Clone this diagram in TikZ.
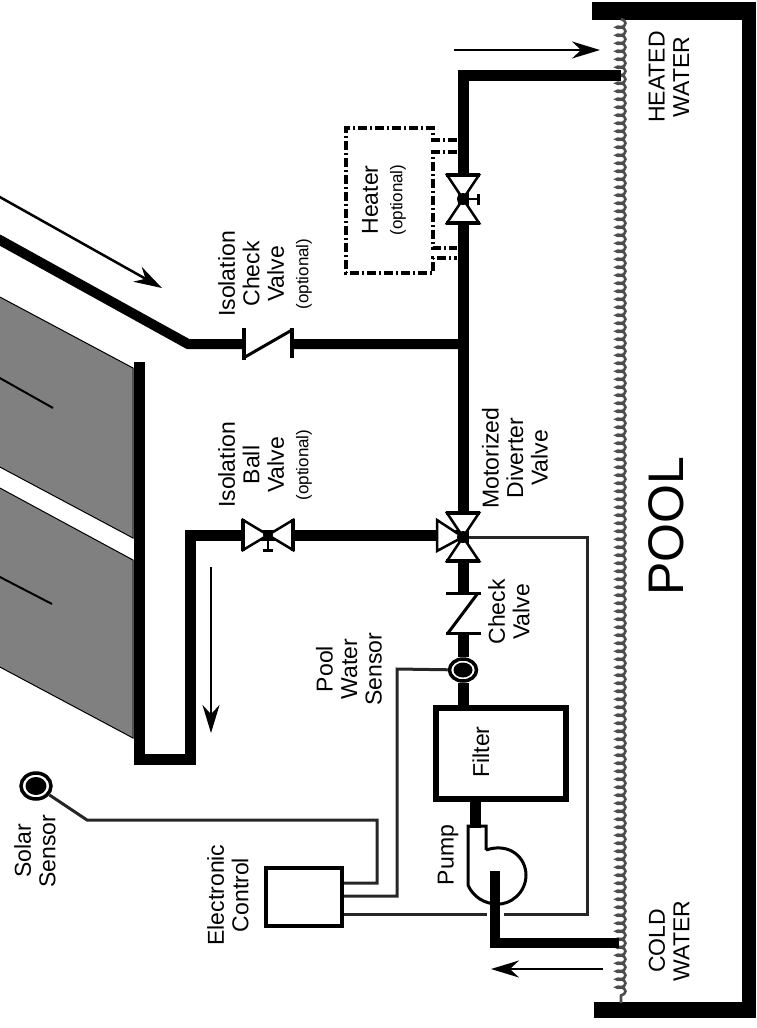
\documentclass[tikz,border=0pt]{standalone}
\usepackage{fontspec}
\setmainfont{Liberation Sans}
\usetikzlibrary{arrows.meta,shapes.geometric,decorations.pathmorphing}
\newcommand{\opt}{{\fontsize{17}{24.5}\selectfont (optional)}}
\tikzset{
  pipe/.style={line width=11pt,line join=miter},
  wire/.style={line width=3pt,black!85,line join=miter},
  panel/.style={fill=black!50,draw=black,line width=1pt},
  flow/.style={line width=2.5pt,-{Stealth[length=28pt,width=17pt]}},
  label/.style={rotate=90,align=center,inner sep=0pt,font=\fontsize{23}{24.5}\selectfont},
  sensorring/.style={ellipse,draw=black,fill=white,line width=3.5pt,inner sep=0pt},
  sensorcore/.style={ellipse,fill=black,inner sep=0pt},
  valveleg/.style={draw=black,fill=white,line width=2.5pt,line join=miter},
  vvalve/.pic={
    \path[valveleg] (-16,-24) -- (16,-24) -- (0,0) -- cycle;
    \path[valveleg] (-16,24) -- (16,24) -- (0,0) -- cycle;
    \draw[line width=3.5pt] (-17,-24) -- (17,-24) (-17,24) -- (17,24);
    \fill (0,0) circle[radius=6];
  },
  hvalve/.pic={
    \path[valveleg] (-25,-15) -- (-25,15) -- (0,0) -- cycle;
    \path[valveleg] (25,-15) -- (25,15) -- (0,0) -- cycle;
    \draw[line width=3.5pt] (-25,-16) -- (-25,16) (25,-16) -- (25,16);
    \fill (0,0) circle[radius=5];
    \draw[line width=2pt] (0,0) -- (0,14);
    \draw[line width=3pt] (-5,15) -- (5,15);
  },
  vcheck/.pic={
    \fill[white] (-16,-20) rectangle (16,20);
    \draw[line width=3pt] (-17,-20) -- (18,-20) (-17,20) -- (18,20);
    \draw[line width=3pt] (15,-20) -- (-15,20);
  },
  hcheck/.pic={
    \fill[white] (-24,-14) rectangle (24,14);
    \draw[line width=3.5pt] (-24,-16) -- (-24,16) (24,-16) -- (24,14);
    \draw[line width=3pt] (-23,13) -- (24,-14);
  },
}
\begin{document}
\begin{tikzpicture}[x=1pt,y=-1pt]
\useasboundingbox (0,0) rectangle (756,1028);
\clip (0,0) rectangle (756,1028);
% junction points
\coordinate (hotout) at (621,75);
\coordinate (hotcorner) at (463,75);
\coordinate (heatv) at (463,199);
\coordinate (tee) at (463,344);
\coordinate (motorv) at (463,537);
\coordinate (motorin) at (463,535);
\coordinate (checkv) at (463,613);
\coordinate (solarin) at (-2,239);
\coordinate (solarcorner) at (188,344);
\coordinate (isocheck) at (268,344);
\coordinate (isoball) at (268,535);
\coordinate (riser) at (190,535);
\coordinate (riserfoot) at (190,759);
\coordinate (headerfoot) at (139,759);
\coordinate (headertop) at (139,362);
\coordinate (w1) at (587,537);
\coordinate (w2) at (587,914);
\coordinate (w3) at (377,883);
\coordinate (w4) at (377,820);
\coordinate (w5) at (87,820);
\coordinate (w6) at (397,896);
\coordinate (w7) at (397,669);
\coordinate (pumpin) at (475,828);
\coordinate (pumpcore) at (495,871);
\coordinate (coldcorner) at (495,943);
\coordinate (coldout) at (619,943);
% solar panels
\path[panel] (-2,296) -- (133,368) -- (133,538) -- (-2,466) -- cycle;
\path[panel] (-2,487) -- (133,560) -- (133,738) -- (-2,666) -- cycle;
\coordinate (a1) at (-2,377);\coordinate (a2) at (53,408);
\coordinate (b1) at (-2,576);\coordinate (b2) at (52,604);
\draw[line width=2pt] (a1) -- (a2);
\draw[line width=2pt] (b1) -- (b2);
% pool
\fill (592,2) rectangle (756,20);
\fill (742,2) rectangle (756,1018);
\fill (594,1002) rectangle (756,1018);
\coordinate (wtop) at (621,19);
\coordinate (wbot) at (621,1003);
\draw[black!70,line width=2.6pt,decorate,decoration={coil,amplitude=4.5pt,segment length=8pt}] (wtop) -- (wbot);
% nodes
\node[draw,line width=6pt,minimum width=130pt,minimum height=91pt,inner sep=0pt] (filter) at (501,753.5) {};
\node[draw,line width=4pt,minimum width=76pt,minimum height=58pt,inner sep=0pt] (control) at (304,897) {};
\node[sensorring,minimum width=27pt,minimum height=22pt] (poolsensor) at (463,670) {};
\node[sensorring,minimum width=30pt,minimum height=26pt] (solarsensor) at (36,786) {};
% wires
\draw[wire] (motorv) -- (w1) -- (w2) -- (w2 -| control.east);
\draw[wire] (w3 -| control.east) -- (w3) -- (w4) -- (w5) -- (solarsensor);
\draw[wire] (w6 -| control.east) -- (w6) -- (w7) -- (poolsensor);
\draw[white,line width=17pt] (495,905) -- (495,924);
% pipes
\draw[pipe] (hotout) -- (hotcorner) -- (heatv) -- (motorv) -- (checkv) -- (poolsensor) -- (poolsensor |- filter.north);
\draw[pipe,line width=10pt] (solarin) -- (solarcorner) -- (isocheck) -- (tee);
\draw[pipe] (headertop) -- (headerfoot) -- (riserfoot) -- (riser) -- (isoball) -- (motorin);
\draw[pipe] (pumpin |- filter.south) -- (pumpin);
% pump casing
\draw[line width=3pt,line join=miter] (486,850) -- (486,826) -- (468,826) -- (468,885)
  .. controls (473,897) and (485,904) .. (497,904)
  .. controls (510,905) and (526,893) .. (526,875)
  .. controls (526,858) and (510,842) .. (486,850);
\draw[pipe,line width=10pt] (pumpcore) -- (coldcorner) -- (coldout);
% valves
\pic at (heatv) {vvalve};
\draw[line width=2pt] (heatv) -- (478,199);
\draw[line width=3pt] (478,194) -- (478,205);
\path[valveleg] (437,520) -- (437,551) -- (motorv) -- cycle;
\pic at (motorv) {vvalve};
\pic at (checkv) {vcheck};
\pic at (isocheck) {hcheck};
\pic at (isoball) {hvalve};
% sensors
\node[sensorcore,minimum width=19pt,minimum height=15pt] (poolcore) at (poolsensor) {};
\node[sensorcore,minimum width=21pt,minimum height=18pt] (solarcore) at (solarsensor) {};
% heater
\coordinate (h1) at (433,128);\coordinate (h2) at (433,140);\coordinate (h3) at (457,140);
\coordinate (h4) at (457,152);\coordinate (h5) at (433,152);\coordinate (h6) at (433,248);
\coordinate (h7) at (457,248);\coordinate (h8) at (457,258);\coordinate (h9) at (433,258);
\coordinate (h10) at (433,273);\coordinate (h11) at (346,273);\coordinate (h12) at (346,128);
\draw[line width=4pt,dash pattern=on 9pt off 3pt on 2pt off 3pt] (h3) -- (h2) -- (h1) -- (h12) -- (h11) -- (h10) -- (h9) -- (h8);
\draw[line width=4pt,dash pattern=on 9pt off 3pt on 2pt off 3pt] (h4) -- (h5) -- (h6) -- (h7);
% flow arrows
\coordinate (f1) at (-2,196);\coordinate (f2) at (162,288);
\coordinate (f3) at (211,567);\coordinate (f4) at (211,733);
\coordinate (f5) at (454,50);\coordinate (f6) at (600,50);
\coordinate (f7) at (603,969);\coordinate (f8) at (491,969);
\draw[flow] (f1) -- (f2);
\draw[flow] (f3) -- (f4);
\draw[flow] (f5) -- (f6);
\draw[flow] (f7) -- (f8);
% labels
\node[label] (lbl1) at (265,274) {Isolation\\Check\\Valve\\\opt};
\node[label] (lbl2) at (265,465) {Isolation\\Ball\\Valve\\\opt};
\node[label] (lbl3) at (384,200) {Heater\\\opt};
\node[label] (lbl4) at (515,458) {Motorized\\Diverter\\Valve};
\node[label] (lbl5) at (509,612) {Check\\Valve};
\node[label] (lbl6) at (349,669) {Pool\\Water\\Sensor};
\node[label] (lbl7) at (35,851) {Solar\\Sensor};
\node[label] (lbl8) at (228,895) {Electronic\\Control};
\node[label] (lbl9) at (448,855) {Pump};
\node[label] (lbl10) at (481,752) {Filter};
\node[label] (lbl11) at (669,77) {HEATED\\WATER};
\node[label] (lbl12) at (669,941) {COLD\\WATER};
\node[label,font=\fontsize{50}{50}\selectfont] (lbl13) at (666,526) {POOL};
\end{tikzpicture}
\end{document}
